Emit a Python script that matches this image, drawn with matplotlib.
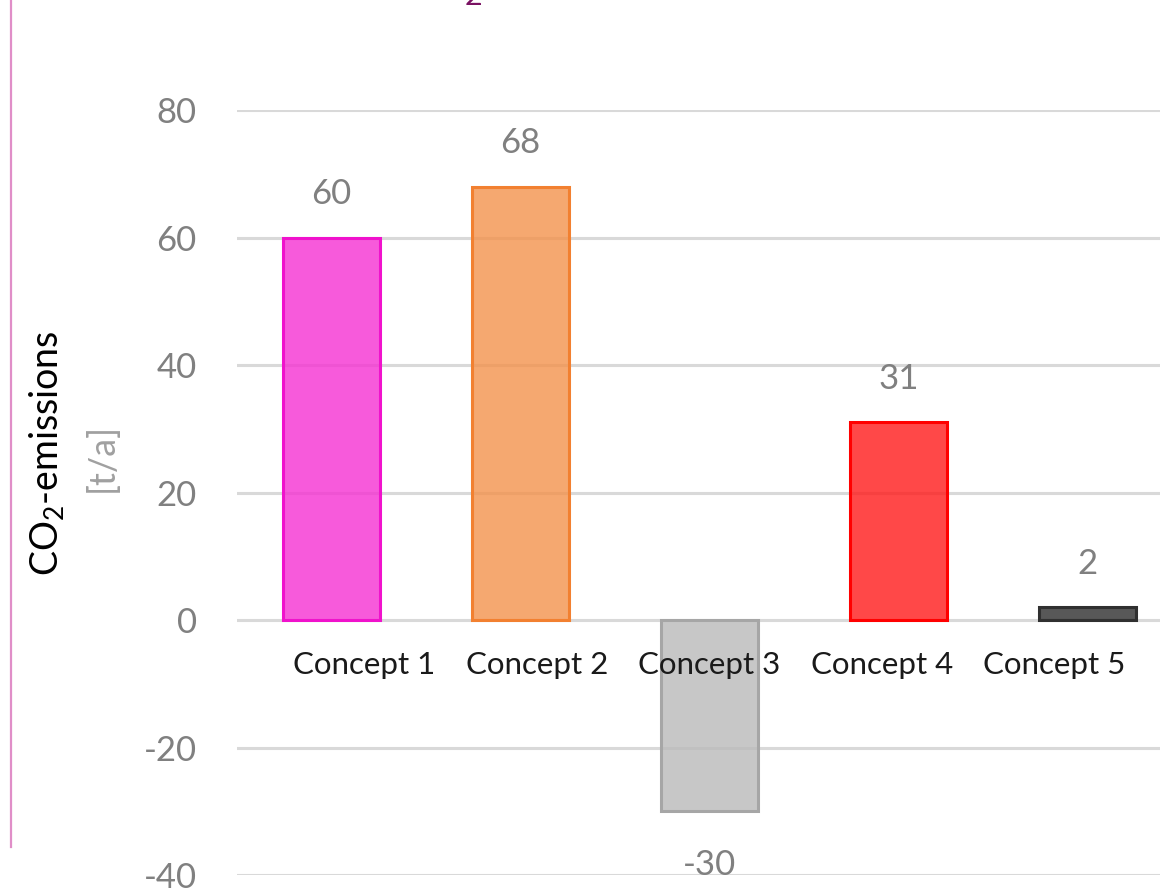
import matplotlib
matplotlib.use('Agg')
import matplotlib.pyplot as plt
from matplotlib.lines import Line2D

plt.rcParams['font.family'] = ['Lato', 'DejaVu Sans']
plt.rcParams['mathtext.fontset'] = 'custom'
plt.rcParams['mathtext.rm'] = 'Lato'
plt.rcParams['mathtext.it'] = 'Lato:italic'
plt.rcParams['mathtext.bf'] = 'Lato:bold'

# data
concepts = ['Concept 1', 'Concept 2', 'Concept 3', 'Concept 4', 'Concept 5']
emissions = [60, 68, -30, 31, 2]
face_colors = ['#f531d2', '#f3924c', '#bababa', '#ff1a1a', '#2e2e2e']
edge_colors = ['#f012cc', '#f28030', '#a6a6a6', '#ff0000', '#303030']
y_ticks = [-40, -20, 0, 20, 40, 60, 80]

fig = plt.figure(figsize=(11.6, 8.92), dpi=100)
ax = fig.add_axes([0.2043, 0.01906, 0.8147, 0.8576])

ax.set_axisbelow(True)
ax.grid(axis='y', color='#d9d9d9', linewidth=2.2)
ax.grid(axis='x', visible=False)

x = list(range(len(concepts)))
ax.bar(x, emissions, width=0.51, color=face_colors, alpha=0.8,
       edgecolor='none', zorder=2)
ax.bar(x, emissions, width=0.51, facecolor='none',
       edgecolor=edge_colors, linewidth=2.2, zorder=3)

# value labels outside the bar ends
for i, v in enumerate(emissions):
    if v >= 0:
        ax.annotate(str(v), (i, v), xytext=(0, 24), textcoords='offset points',
                    ha='center', va='baseline', fontsize=25, color='#808080')
    else:
        ax.annotate(str(v), (i, v), xytext=(0, -46), textcoords='offset points',
                    ha='center', va='baseline', fontsize=25, color='#808080')

ax.set_xlim(-0.5, len(concepts) - 0.5)
ax.set_ylim(-40, 80)
ax.set_yticks(y_ticks)
ax.set_yticklabels([str(t) for t in y_ticks])

# the category labels in the original are packed a bit tighter than the bars
mid = (len(concepts) - 1) / 2
label_pos = [mid + (i - mid) * 0.913 for i in x]
ax.set_xticks(label_pos)
ax.set_xticklabels(concepts)

# category labels sit on the zero line, on top of the bars
ax.spines['bottom'].set_position(('data', 0))
for s in ['top', 'right', 'left', 'bottom']:
    ax.spines[s].set_visible(False)
ax.xaxis.set_zorder(5)

ax.tick_params(axis='y', length=0, pad=29, labelsize=25, labelcolor='#808080')
ax.tick_params(axis='x', length=0, pad=22, labelsize=22.5, labelcolor='#1a1a1a')

# y axis title, two lines with different colours
fig.text(47 / 1160, 1 - 453 / 892, 'CO$_{2}$-emissions', rotation=90,
         ha='center', va='center', fontsize=27, color='black')
fig.text(102 / 1160, 1 - 457 / 892, '[t/a]', rotation=90,
         ha='center', va='center', fontsize=26, color='#a0a0a0')

# bit of the cut-off title and the pink frame line
fig.text(473 / 1160, 1 - 5 / 892, '2', ha='center', va='baseline',
         fontsize=22, color='#7a1262')
fig.add_artist(Line2D([11 / 1160, 11 / 1160], [1.0, 1 - 847 / 892],
                      color='#e08ec8', linewidth=1.6))

fig.savefig('out.png', dpi=100)
